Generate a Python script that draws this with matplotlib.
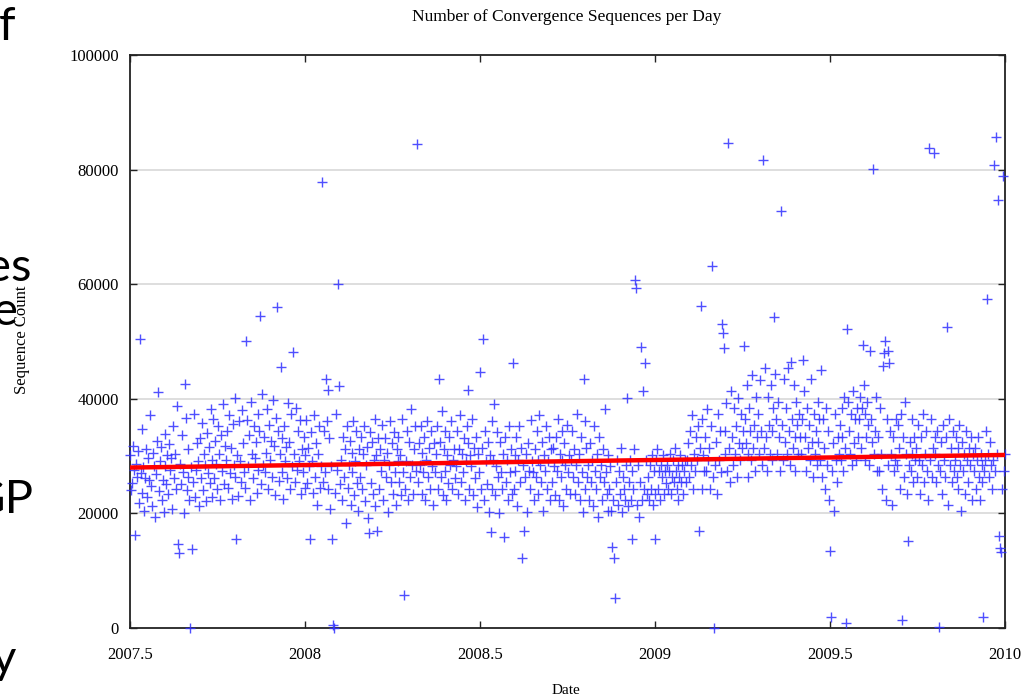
import numpy as np
import matplotlib
matplotlib.use("Agg")
import matplotlib.pyplot as plt

# ---------------- data ----------------
start_year = 2007.5
days_per_year = 365.0

# daily sequence counts (hundreds)
counts_h = [
 302,241,253,318,276,224,287,263,309,218,294,271,236,347,281,205,262,313,229,296,
 258,371,247,213,305,283,194,268,327,354,239,291,316,224,259,203,282,338,251,302,
 233,321,276,297,208,352,262,304,243,388,314,219,287,252,336,273,201,294,366,241,
 312,264,223,342,281,307,254,374,229,276,323,292,213,331,262,357,241,303,284,222,
 341,271,316,253,382,293,228,364,262,327,286,242,353,304,224,336,274,391,252,317,
 293,343,244,372,271,314,226,356,284,402,263,334,302,231,362,291,254,381,322,273,
 244,317,363,282,336,224,394,304,262,352,296,324,236,373,276,344,313,251,408,284,
 334,272,306,383,243,354,293,327,264,398,318,232,366,283,343,256,304,376,272,332,
 226,352,291,316,261,392,324,243,374,283,334,303,254,384,276,343,292,363,234,313,
 272,334,244,302,363,253,314,283,223,342,292,236,372,264,323,214,304,352,244,283,
 313,254,343,272,226,362,294,243,332,207,283,354,262,303,236,373,276,198,324,252,
 294,224,334,263,312,183,352,244,284,326,214,306,273,362,232,292,343,253,204,313,
 263,334,243,304,353,222,284,316,192,274,342,253,324,233,294,364,213,302,262,331,
 243,313,274,354,224,293,332,264,306,203,284,362,254,323,234,342,273,214,312,291,
 333,254,302,232,364,273,314,243,292,344,223,324,263,382,284,233,312,352,274,303,
 254,323,284,353,234,306,272,334,224,293,362,264,314,243,344,283,214,322,273,304,
 352,243,293,324,263,378,232,312,274,343,224,302,253,334,284,361,243,294,313,262,
 283,344,234,312,372,254,303,273,332,224,292,353,264,323,243,302,283,364,232,314,
 262,333,212,304,273,354,243,314,284,223,343,292,252,324,203,302,274,362,242,293,
 314,232,283,342,264,201,324,272,243,304,193,334,254,294,224,352,273,313,234,284,
 243,302,274,334,213,293,352,254,314,223,284,343,263,304,203,323,274,243,363,292,
 272,224,313,263,344,294,233,372,284,254,324,204,302,274,353,243,292,334,224,313,
 254,314,283,232,334,274,364,223,304,263,343,294,213,323,284,242,354,273,302,234,
 293,343,264,312,234,284,374,254,304,224,334,273,203,294,362,243,314,263,284,224,
 322,254,293,213,352,274,243,304,194,333,264,284,224,313,254,383,273,234,302,204,
 243,283,204,264,223,302,194,254,294,214,274,233,314,203,263,242,224,284,402,213,
 254,294,224,274,203,243,313,234,264,214,284,194,254,304,224,274,243,204,293,234,
 263,224,284,243,302,214,274,254,233,294,313,243,274,224,284,263,302,234,274,253,
 284,243,274,304,234,264,293,254,314,274,243,284,224,263,302,254,284,233,274,294,
 254,294,323,264,343,284,372,243,304,274,334,293,352,264,314,283,243,364,302,274,
 334,274,383,293,314,243,352,304,264,363,284,324,234,373,294,344,273,404,314,254,
 343,304,392,274,364,314,254,413,334,284,384,304,352,264,402,323,294,374,314,343,
 284,364,323,424,304,263,384,343,294,442,314,354,274,404,334,374,304,432,343,284,
 374,314,453,334,274,404,354,304,424,343,294,384,324,443,364,304,394,334,274,414,
 354,294,434,324,384,304,454,343,284,404,364,314,424,334,274,394,354,304,374,334,
 304,364,284,414,334,274,384,314,354,294,434,324,264,374,304,343,284,394,324,364,
 294,334,264,364,314,243,384,284,343,224,304,354,274,323,204,374,294,254,334,304,
 354,294,384,334,274,404,314,364,254,394,343,304,374,284,414,323,364,294,384,334,
 364,404,314,384,343,424,294,374,334,394,354,284,414,364,324,384,304,343,404,274,
 334,274,384,304,243,354,294,324,224,364,284,314,254,343,304,214,334,274,294,364,
 284,354,314,243,374,294,334,264,394,304,234,343,284,324,274,364,304,254,334,294,
 314,264,354,294,234,334,284,374,254,304,343,274,224,324,294,364,264,314,243,334,
 304,254,343,284,384,274,324,234,354,294,264,334,304,214,364,284,314,254,343,274,
 294,334,264,314,243,354,284,204,324,274,304,234,343,294,254,314,284,334,224,304,
 274,314,243,294,334,264,224,304,284,254,314,274,294,343,234,304,264,324,284,243,
 294,314,274,254,304,284,334,264,294,243,314,274,304,
]

# isolated high / low days (day index -> thousands)
outlier_days = [5, 10, 29, 50, 51, 57, 63, 65, 111, 121, 136, 153, 157, 170,
                188, 200, 204, 206, 211, 212, 213, 217, 218, 249, 258, 286,
                299, 322, 352, 365, 368, 376, 380, 390, 399, 409, 411, 473,
                503, 505, 506, 524, 527, 528, 533, 535, 537, 547, 593, 595,
                607, 609, 617, 618, 619, 624, 640, 660, 672, 679, 689, 702,
                721, 730, 731, 747, 748, 764, 772, 775, 785, 786, 787, 791,
                792, 805, 811, 833, 838, 844, 852, 890, 894, 901, 903, 905,
                906, 907, 908, 910]
outlier_vals = [16.2, 50.4, 41.2, 14.6, 13.1, 42.5, 0.0, 13.8, 15.5, 50.1,
                54.5, 56.0, 45.5, 48.2, 15.5, 77.8, 43.4, 41.6, 15.5, 0.6,
                0.0, 60.0, 42.3, 16.6, 17.0, 5.8, 84.5, 43.5, 41.6, 44.7,
                50.4, 16.8, 39.1, 15.9, 46.2, 12.2, 16.9, 43.5, 14.1, 12.2,
                5.2, 15.5, 60.7, 59.4, 49.0, 41.4, 46.2, 15.5, 16.9, 56.2,
                63.2, 0.0, 53.0, 51.5, 48.9, 84.6, 49.2, 81.7, 54.3, 72.8,
                46.4, 46.8, 45.0, 13.4, 1.9, 0.9, 52.2, 49.4, 48.3, 80.1,
                45.7, 48.0, 50.1, 48.3, 46.2, 1.4, 15.2, 83.7, 82.9, 0.2,
                52.5, 1.9, 57.4, 80.8, 85.7, 74.7, 16.0, 14.0, 13.2, 78.9]

trend_years = [2007.5, 2010.0]
trend_counts = [28000, 30200]

x_ticks = [2007.5, 2008, 2008.5, 2009, 2009.5, 2010]
x_tick_labels = ["2007.5", "2008", "2008.5", "2009", "2009.5", "2010"]
y_ticks = [0, 20000, 40000, 60000, 80000, 100000]
y_tick_labels = ["0", "20000", "40000", "60000", "80000", "100000"]

title = "Number of Convergence Sequences per Day"
x_label = "Date"
y_label = "Sequence Count"
side_fragments = ["f", "es", "e", "GP", "y"]

# ---------------- build series ----------------
values = np.array(counts_h, dtype=float) * 100.0
for d, v in zip(outlier_days, outlier_vals):
    if d < len(values):
        values[d] = v * 1000.0
dates = start_year + np.arange(len(values)) / days_per_year

# ---------------- plot ----------------
W, H = 1034, 699
fig = plt.figure(figsize=(W / 100, H / 100), dpi=100)
serif = ["Liberation Serif", "DejaVu Serif"]

ax = fig.add_axes([130 / W, 1 - 628 / H, 875 / W, 573 / H])
ax.set_xlim(2007.5, 2010)
ax.set_ylim(0, 100000)

for yv in y_ticks[1:-1]:
    ax.axhline(yv, color="#d8d8d8", lw=1.2, zorder=1)

ax.plot(dates, values, ls="none", marker="+", ms=7, mew=1.0,
        color="#3030ff", alpha=0.85, clip_on=False, zorder=3)
ax.plot(trend_years, trend_counts, color="#ff0000", lw=3.2,
        solid_capstyle="butt", zorder=4)

ax.set_xticks(x_ticks)
ax.set_xticklabels(x_tick_labels, fontfamily=serif, fontsize=12)
ax.set_yticks(y_ticks)
ax.set_yticklabels(y_tick_labels, fontfamily=serif, fontsize=12)
ax.tick_params(direction="in", length=5, width=1, top=True, right=True,
               colors="#222222", labelcolor="black")
ax.tick_params(axis="x", pad=14)
ax.tick_params(axis="y", pad=8)
for s in ax.spines.values():
    s.set_linewidth(1.3)
    s.set_color("#222222")

fig.text(567 / W, 1 - 17 / H, title, ha="center", va="center",
         fontfamily=serif, fontsize=12.5)
fig.text(566 / W, 1 - 690 / H, x_label, ha="center", va="center",
         fontfamily=serif, fontsize=11)
fig.text(22 / W, 1 - 340 / H, y_label, ha="center", va="center",
         rotation=90, fontfamily=serif, fontsize=12)

# slide text fragments behind the pasted chart (left edge)
frag_pos = [(15, 27), (32, 268), (18, 312), (34, 500), (16, 660)]
for txt, (xp, yp) in zip(side_fragments, frag_pos):
    fig.text(xp / W, 1 - yp / H, txt, ha="right", va="center",
             fontfamily=["Lato", "DejaVu Sans"], fontsize=34, color="black")

fig.savefig("out.png", dpi=100)
